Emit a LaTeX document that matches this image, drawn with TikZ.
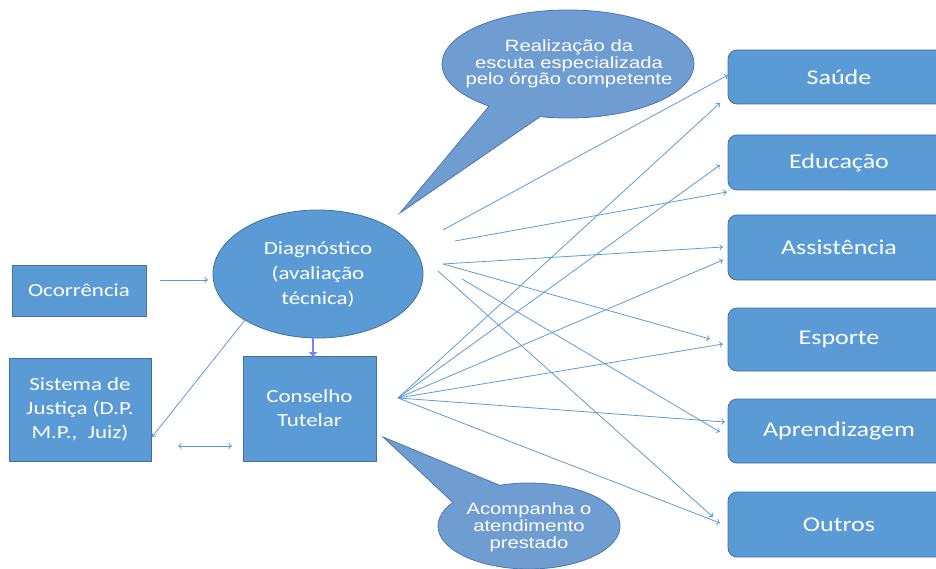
\documentclass[tikz,border=0pt]{standalone}
\usepackage{fontspec}
\newfontfamily\boxfont[FakeStretch=1.24]{Carlito}
\newfontfamily\callfont[FakeStretch=1.24]{Liberation Sans}
\usetikzlibrary{shapes.geometric,shapes.callouts,arrows.meta}
\definecolor{boxblue}{HTML}{5B9BD5}
\definecolor{boxedge}{HTML}{41719C}
\definecolor{callblue}{HTML}{6F9DD1}
\definecolor{calledge}{HTML}{4C79AE}
\definecolor{linkblue}{HTML}{5B9BD5}
\definecolor{purp}{HTML}{7F7FFF}
\tikzset{
  sqbox/.style={rectangle,fill=boxblue,draw=boxedge,line width=0.8pt,inner sep=0pt,
    text=white,align=center,font=\boxfont\fontsize{18.5}{24}\selectfont},
  rbox/.style={rectangle,rounded corners=9pt,fill=boxblue,draw=boxedge,line width=0.8pt,
    inner sep=0pt,minimum width=222pt,text=white,font=\boxfont\fontsize{21}{25}\selectfont},
  diagnode/.style={ellipse,fill=boxblue,draw=boxedge,line width=0.8pt,inner sep=0pt,
    minimum width=210pt,minimum height=128pt,text=white,align=center,
    font=\boxfont\fontsize{18.5}{25}\selectfont},
  callshape/.style={ellipse callout,fill=callblue,draw=calledge,line width=0.8pt,inner sep=0pt},
  calltext/.style={text=white,align=center,inner sep=0pt,
    font=\callfont\fontsize{16.3}{16.3}\selectfont},
  link/.style={draw=linkblue,line width=0.8pt,-{To[length=3.5pt,width=6pt]}},
  biglink/.style={draw=linkblue,line width=0.8pt,{To[length=3.5pt,width=6pt]}-{To[length=3.5pt,width=6pt]}},
  purplink/.style={draw=purp,line width=2.2pt,-{Triangle[length=5pt,width=8pt]}}
}
\begin{document}
\begin{tikzpicture}[x=1pt,y=-1pt]
\useasboundingbox (0,0) rectangle (936,569);
\clip (0,0) rectangle (936,569);

% callouts
\node[callshape,minimum width=252pt,minimum height=108pt,callout pointer arc=26,
  callout absolute pointer={(400,213)}] (callA) at (568,64) {};
\node[calltext] (callAt) at (569,64) {Realização da\\escuta especializada\\pelo órgão competente};
\node[callshape,minimum width=182pt,minimum height=86pt,callout pointer arc=38,
  callout absolute pointer={(383,437)}] (callB) at (529,526) {};
\node[calltext,font=\callfont\fontsize{16.3}{16.8}\selectfont] (callBt) at (529,527) {Acompanha o\\atendimento\\prestado};

% left nodes
\node[sqbox,minimum width=134pt,minimum height=51pt] (oco) at (79,290.5) {Ocorrência};
\node[sqbox,minimum width=142pt,minimum height=103pt] (sj) at (80,409.5) {Sistema de\\Justiça (D.P.\\M.P.,~~Juiz)};
\node[sqbox,minimum width=133pt,minimum height=105pt] (ct) at (309.5,408.5) {Conselho\\Tutelar};
\node[diagnode] (diag) at (318,274) {Diagnóstico\\(avaliação\\técnica)};

% right nodes
\node[rbox,minimum height=54pt] (sau) at (839,77) {Saúde};
\node[rbox,minimum height=55pt] (edu) at (839,162.5) {Educação};
\node[rbox,minimum height=65pt] (ass) at (839,247.5) {Assistência};
\node[rbox,minimum height=63pt] (esp) at (839,339.5) {Esporte};
\node[rbox,minimum height=64pt] (apr) at (839,431) {Aprendizagem};
\node[rbox,minimum height=65pt] (out) at (839,524.5) {Outros};

% coordinates for free ends
\coordinate (ocoS) at (160,280);
\coordinate (diagE) at (208,280);
\coordinate (diagSW) at (245,320);
\coordinate (sjE) at (152,437);
\coordinate (bidA) at (178,446);
\coordinate (bidB) at (232,446);
\coordinate (diagB) at (313,338);
\coordinate (ctT) at (313,357);
\coordinate (ctfan) at (398,398);
\coordinate (d1) at (443,230);
\coordinate (d2) at (455,241);
\coordinate (d3) at (443,264);
\coordinate (d5) at (462,279);
\coordinate (d6) at (438,271);
\coordinate (sauA) at (728,75);
\coordinate (sauB) at (720,103);
\coordinate (eduA) at (727,192);
\coordinate (eduB) at (720,165);
\coordinate (assA) at (723,247);
\coordinate (assB) at (723,260);
\coordinate (espA) at (710,339);
\coordinate (espB) at (723,344);
\coordinate (aprA) at (720,432);
\coordinate (aprB) at (725,422);
\coordinate (outA) at (713,517);
\coordinate (outB) at (720,523);

% connectors
\draw[link] (ocoS) -- (diagE);
\draw[link] (diagSW) -- (sjE);
\draw[biglink] (bidA) -- (bidB);
\draw[purplink] (diagB) -- (ctT);

\draw[link] (d1) -- (sauA);
\draw[link] (d2) -- (eduA);
\draw[link] (d3) -- (assA);
\draw[link] (d3) -- (espA);
\draw[link] (d5) -- (aprA);
\draw[link] (d6) -- (outA);

\draw[link] (ctfan) -- (sauB);
\draw[link] (ctfan) -- (eduB);
\draw[link] (ctfan) -- (assB);
\draw[link] (ctfan) -- (espB);
\draw[link] (ctfan) -- (aprB);
\draw[link] (ctfan) -- (outB);
\end{tikzpicture}
\end{document}
